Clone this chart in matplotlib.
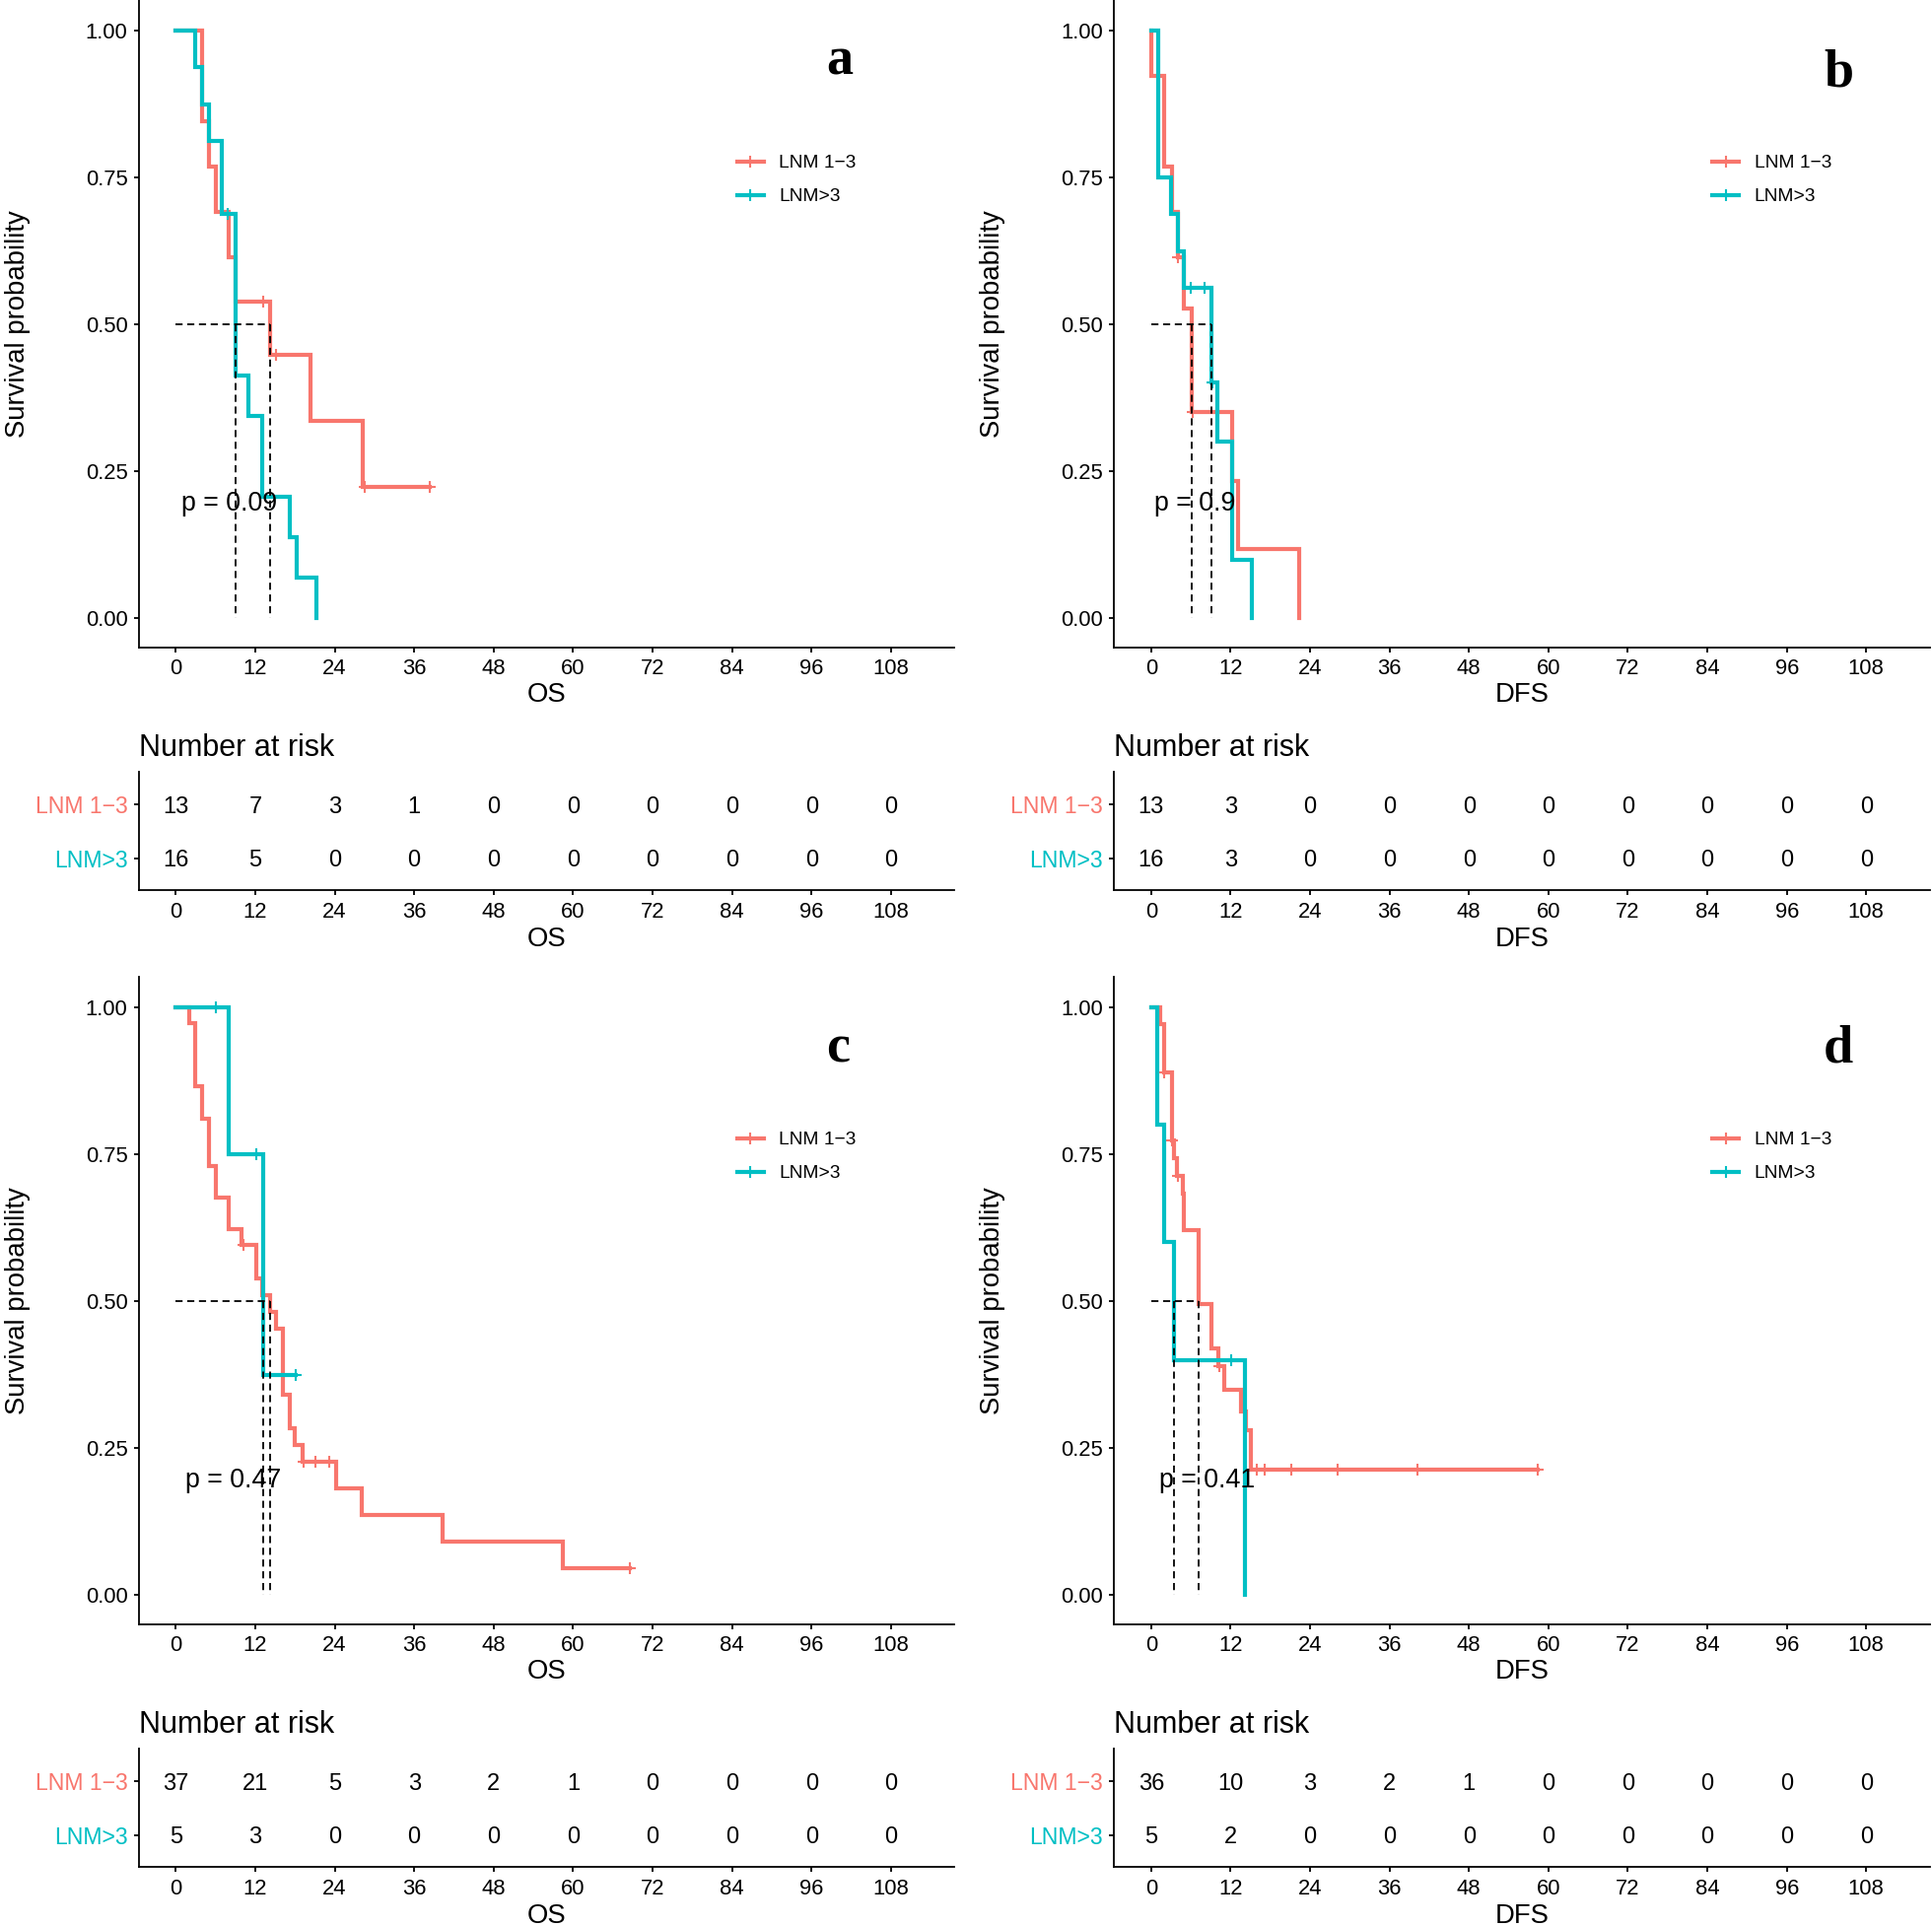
#!/usr/bin/env python3
"""Kaplan-Meier curves (OS / DFS) by lymph node metastasis group, with risk tables."""
import numpy as np
import matplotlib.pyplot as plt

plt.rcParams['font.family'] = ['Liberation Sans', 'DejaVu Sans']

RED = '#F8766D'
CYAN = '#00BFC4'
groups = ['LNM 1\u22123', 'LNM>3']
time_ticks = [0, 12, 24, 36, 48, 60, 72, 84, 96, 108]

# ---- panel a: OS ----
a_red_t = [0, 4, 5, 6, 8, 9, 14.2, 20.3, 28.3, 38.4]
a_red_s = [1, 0.846, 0.769, 0.692, 0.615, 0.538, 0.449, 0.336, 0.224, 0.224]
a_red_cens = [13.2, 15.1, 28.5, 38.4]
a_cyan_t = [0, 3, 4, 5, 7, 9.1, 10.9, 13.1, 17.2, 18.2, 21.3]
a_cyan_s = [1, 0.938, 0.875, 0.8125, 0.6875, 0.4125, 0.344, 0.206, 0.1375, 0.069, 0]
a_cyan_cens = [7.9]
a_risk_red = [13, 7, 3, 1, 0, 0, 0, 0, 0, 0]
a_risk_cyan = [16, 5, 0, 0, 0, 0, 0, 0, 0, 0]

# ---- panel b: DFS ----
b_red_t = [0, 0.1, 2, 3.1, 4.0, 5.0, 6.1, 12.2, 13.1, 22.4]
b_red_s = [1, 0.923, 0.769, 0.692, 0.615, 0.527, 0.351, 0.234, 0.117, 0]
b_red_cens = [4.0, 6.3]
b_cyan_t = [0, 1, 3, 4, 5, 9.1, 10, 12.2, 15.2]
b_cyan_s = [1, 0.75, 0.6875, 0.625, 0.5625, 0.402, 0.301, 0.1, 0]
b_cyan_cens = [6.0, 8.0, 9.3]
b_risk_red = [13, 3, 0, 0, 0, 0, 0, 0, 0, 0]
b_risk_cyan = [16, 3, 0, 0, 0, 0, 0, 0, 0, 0]

# ---- panel c: OS ----
c_red_t = [0, 2, 3, 4, 5, 6, 8, 10.0, 12.15, 13.05, 14.25, 15.15, 16.15, 17.15,
           18.0, 19.1, 24.2, 28.15, 40.35, 58.5, 68.65]
c_red_s = [1, 0.973, 0.865, 0.811, 0.730, 0.676, 0.622, 0.595, 0.538, 0.510, 0.481,
           0.453, 0.340, 0.283, 0.255, 0.227, 0.181, 0.136, 0.091, 0.045, 0.045]
c_red_cens = [10.2, 19.3, 21.15, 23.15, 68.65]
c_cyan_t = [0, 8, 13.15, 18.15]
c_cyan_s = [1, 0.75, 0.375, 0.375]
c_cyan_cens = [6.1, 12.2, 18.15]
c_risk_red = [37, 21, 5, 3, 2, 1, 0, 0, 0, 0]
c_risk_cyan = [5, 3, 0, 0, 0, 0, 0, 0, 0, 0]

# ---- panel d: DFS ----
d_red_t = [0, 1.35, 1.9, 3.1, 3.5, 3.95, 4.75, 5.0, 7.1, 9.1, 10.15, 11.0, 13.5,
           14.25, 15.0, 58.35]
d_red_s = [1, 0.972, 0.889, 0.774, 0.744, 0.714, 0.683, 0.621, 0.495, 0.42, 0.39,
           0.35, 0.312, 0.28, 0.213, 0.213]
d_red_cens = [2.0, 3.2, 4.05, 10.3, 16.0, 17.15, 21.15, 28.15, 40.25, 58.35]
d_cyan_t = [0, 0.85, 1.9, 3.5, 14.15]
d_cyan_s = [1, 0.8, 0.6, 0.4, 0]
d_cyan_cens = [12.1]
d_risk_red = [36, 10, 3, 2, 1, 0, 0, 0, 0, 0]
d_risk_cyan = [5, 2, 0, 0, 0, 0, 0, 0, 0, 0]

pvals = ['p = 0.09', 'p = 0.9', 'p = 0.47', 'p = 0.41']
pval_x = [0.9, 0.5, 1.5, 1.2]
xlabels = ['OS', 'DFS', 'OS', 'DFS']
letters = ['a', 'b', 'c', 'd']


def surv_at(t, s, tc):
    idx = np.searchsorted(np.asarray(t), np.asarray(tc), side='right') - 1
    return np.asarray(s)[idx]


def median_time(t, s):
    for ti, si in zip(t, s):
        if si <= 0.5:
            return ti
    return None


def style_axes(ax):
    for side in ['top', 'right']:
        ax.spines[side].set_visible(False)
    for side in ['left', 'bottom']:
        ax.spines[side].set_linewidth(1.3)
    ax.tick_params(axis='both', length=3.6, width=1.3, labelsize=15.8, pad=4.5,
                   colors='black')
    ax.set_xlim(-5.6, 117.6)
    ax.set_xticks(time_ticks)


def draw_panel(ax, axt, curves, pval, px, xlabel, risk_red, risk_cyan):
    style_axes(ax)
    medians = []
    for (t, s, cens, col) in curves:
        ax.step(t, s, where='post', color=col, lw=3.0, solid_joinstyle='miter')
        ax.plot(cens, surv_at(t, s, cens), '+', color=col, ms=9, mew=1.5)
        medians.append(median_time(t, s))
    medians = [m for m in medians if m is not None]
    ax.plot([0, max(medians)], [0.5, 0.5], color='black', lw=1.3, dashes=(4, 2.6))
    for m in medians:
        ax.plot([m, m], [0.5, 0], color='black', lw=1.3, dashes=(4, 2.6))
    ax.text(px, 0.2, pval, fontsize=19.3, ha='left', va='center_baseline')
    ax.set_ylim(-0.05, 1.052)
    ax.set_yticks([0, 0.25, 0.5, 0.75, 1.0])
    ax.set_yticklabels(['0.00', '0.25', '0.50', '0.75', '1.00'])
    ax.set_ylabel('Survival probability', fontsize=19.8)
    ax.yaxis.set_label_coords(-0.133, 0.5)
    ax.set_xlabel(xlabel, fontsize=19.8, labelpad=2)

    # legend drawn by hand (ggplot-style keys with censor cross)
    for k, (lab, col) in enumerate(zip(groups, [RED, CYAN])):
        yk = 0.7505 - k * 0.0515
        ax.plot([0.7338, 0.7664], [yk, yk], color=col, lw=3.0,
                transform=ax.transAxes, clip_on=False)
        ax.plot([0.7501], [yk], '+', color=col, ms=9, mew=1.5,
                transform=ax.transAxes, clip_on=False)
        ax.text(0.7846, yk, lab, fontsize=13.8, ha='left', va='center_baseline',
                transform=ax.transAxes)

    # risk table
    style_axes(axt)
    for x, n1, n2 in zip(time_ticks, risk_red, risk_cyan):
        axt.text(x, 2, str(n1), fontsize=17, ha='center', va='center_baseline')
        axt.text(x, 1, str(n2), fontsize=17, ha='center', va='center_baseline')
    axt.set_ylim(0.4, 2.6)
    axt.set_yticks([2, 1])
    axt.set_yticklabels(groups)
    for lab, col in zip(axt.get_yticklabels(), [RED, CYAN]):
        lab.set_color(col)
        lab.set_fontsize(16.6)
    axt.set_xlabel(xlabel, fontsize=19.8, labelpad=3)
    axt.set_title('Number at risk', loc='left', fontsize=22, pad=12)


W, H = 1960, 1954
fig = plt.figure(figsize=(W / 100, H / 100), dpi=100)

panel_data = [
    ([(a_red_t, a_red_s, a_red_cens, RED), (a_cyan_t, a_cyan_s, a_cyan_cens, CYAN)],
     a_risk_red, a_risk_cyan),
    ([(b_red_t, b_red_s, b_red_cens, RED), (b_cyan_t, b_cyan_s, b_cyan_cens, CYAN)],
     b_risk_red, b_risk_cyan),
    ([(c_red_t, c_red_s, c_red_cens, RED), (c_cyan_t, c_cyan_s, c_cyan_cens, CYAN)],
     c_risk_red, c_risk_cyan),
    ([(d_red_t, d_red_s, d_red_cens, RED), (d_cyan_t, d_cyan_s, d_cyan_cens, CYAN)],
     d_risk_red, d_risk_cyan),
]

# pixel layout (left, top) of each panel
offsets = [(0, 0), (989.5, 0), (0, 991), (989.5, 991)]
letter_pos = [(852, 76), (1865, 88), (850, 1077), (1865, 1077)]

for i, (curves, rr, rc) in enumerate(panel_data):
    dx, dy = offsets[i]
    left = (140.7 + dx) / W
    width = 827.6 / W
    ax = fig.add_axes([left, 1 - (657 + dy) / H, width, 657 / H])
    axt = fig.add_axes([left, 1 - (903.3 + dy) / H, width, 120 / H])
    draw_panel(ax, axt, curves, pvals[i], pval_x[i], xlabels[i], rr, rc)
    lx, ly = letter_pos[i]
    fig.text(lx / W, 1 - ly / H, letters[i], fontsize=39, fontweight='bold',
             family='Liberation Serif', ha='center', va='baseline')

fig.savefig('out.png', dpi=100)
